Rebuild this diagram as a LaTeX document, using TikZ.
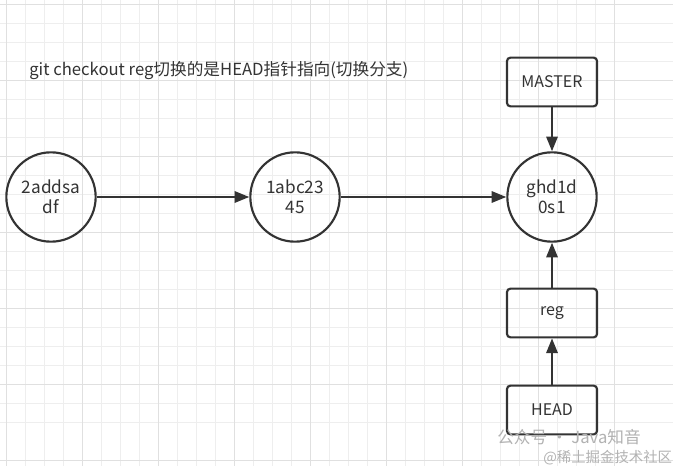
\documentclass[tikz,border=0pt]{standalone}
\usepackage{fontspec}
\setmainfont{Noto Sans CJK SC}
\usetikzlibrary{arrows.meta}
\definecolor{ink}{HTML}{333333}
\definecolor{gridminor}{HTML}{EEEEEE}
\definecolor{gridmajor}{HTML}{E0E0E0}
\tikzset{
  commit/.style={circle, draw=ink, line width=1.6pt, minimum size=67pt, inner sep=0pt, align=center, font=\fontsize{12.9pt}{15pt}\selectfont, text=ink},
  refbox/.style={rectangle, rounded corners=2.5pt, draw=ink, line width=1.6pt, minimum width=67.5pt, minimum height=36.5pt, inner sep=0pt, font=\fontsize{12pt}{14pt}\selectfont, text=ink},
  link/.style={draw=ink, line width=1.6pt, -{Triangle[length=11pt,width=8.5pt]}},
  wm/.style={text=black!30, inner sep=0pt, anchor=west}
}
\begin{document}
\begin{tikzpicture}[x=0.75pt,y=-0.75pt]
\useasboundingbox (0,0) rectangle (673,466);
\fill[white] (0,0) rectangle (673,466);
% grid
\foreach \i in {0,...,36} {
  \pgfmathsetmacro\gx{6+19*\i-19*4}
  \draw[gridminor, line width=0.6pt] (\gx,0) -- (\gx,466);
}
\foreach \i in {0,...,26} {
  \pgfmathsetmacro\gy{4+19*\i-19*4}
  \draw[gridminor, line width=0.6pt] (0,\gy) -- (673,\gy);
}
\foreach \i in {0,...,9} {
  \pgfmathsetmacro\gx{6+76*\i}
  \draw[gridmajor, line width=0.7pt] (\gx,0) -- (\gx,466);
}
\foreach \i in {0,...,6} {
  \pgfmathsetmacro\gy{4+76*\i}
  \draw[gridmajor, line width=0.7pt] (0,\gy) -- (673,\gy);
}
% title
\node[anchor=west, inner sep=0pt, text=ink, font=\fontsize{12.5pt}{14pt}\selectfont] (title) at (29,71) {git checkout reg切换的是HEAD指针指向(切换分支)};
% commits
\node[commit] (c1) at (51,197) {2addsa\\df};
\node[commit] (c2) at (295,197) {1abc23\\45};
\node[commit] (c3) at (552,197) {ghd1d\\0s1};
% refs
\node[refbox] (master) at (552,82) {MASTER};
\node[refbox] (reg) at (552,313) {reg};
\node[refbox] (head) at (552,410) {HEAD};
% connectors
\draw[link] (c1) -- (c2);
\draw[link] (c2) -- (c3);
\draw[link] (master) -- (c3);
\draw[link] (reg) -- (c3);
\draw[link] (head) -- (reg);
% watermarks
\node[wm, font=\fontsize{12.5pt}{14pt}\selectfont] (wm1) at (497,437) {公众号 · Java知音};
\node[wm, font=\fontsize{10.8pt}{12pt}\selectfont] (wm2) at (543,458) {@稀土掘金技术社区};
\end{tikzpicture}
\end{document}
